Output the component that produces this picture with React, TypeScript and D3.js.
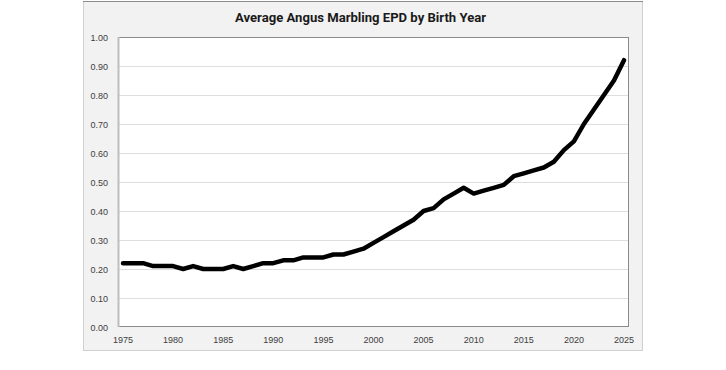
import React from "react";
import * as d3 from "d3";

const years: number[] = d3.range(1975, 2026);
const values: number[] = [
  0.22, 0.22, 0.22, 0.21, 0.21, 0.21, 0.20, 0.21, 0.20, 0.20,
  0.20, 0.21, 0.20, 0.21, 0.22, 0.22, 0.23, 0.23, 0.24, 0.24,
  0.24, 0.25, 0.25, 0.26, 0.27, 0.29, 0.31, 0.33, 0.35, 0.37,
  0.40, 0.41, 0.44, 0.46, 0.48, 0.46, 0.47, 0.48, 0.49, 0.52,
  0.53, 0.54, 0.55, 0.57, 0.61, 0.64, 0.70, 0.75, 0.80, 0.85,
  0.92,
];
const yTicks: number[] = [0, 0.1, 0.2, 0.3, 0.4, 0.5, 0.6, 0.7, 0.8, 0.9, 1.0];
const xTickLabels: number[] = [1975, 1980, 1985, 1990, 1995, 2000, 2005, 2010, 2015, 2020, 2025];
const title = "Average Angus Marbling EPD by Birth Year";

export default function App() {
  const W = 726, H = 370;
  const plot = { left: 118, right: 629, top: 37, bottom: 327 };
  const x = d3
    .scaleBand<number>()
    .domain(years)
    .range([plot.left, plot.right]);
  const cx = (yr: number) => (x(yr) as number) + x.bandwidth() / 2;
  const y = d3.scaleLinear().domain([0, 1]).range([plot.bottom, plot.top]);
  const line = d3
    .line<number>()
    .x((_, i) => cx(years[i]))
    .y((d) => y(d));

  return (
    <svg
      width={W}
      height={H}
      style={{ position: "absolute", left: 0, top: 0 }}
      fontFamily="'Liberation Sans', Arial, sans-serif"
    >
      <rect x={0} y={0} width={W} height={H} fill="#ffffff" />
      <rect x={83.5} y={1.5} width={559} height={349} fill="#f2f2f2" stroke="#d0d0d0" strokeWidth={1} />
      <line x1={83} x2={643} y1={1.5} y2={1.5} stroke="#8c8c8c" strokeWidth={1} />
      <text
        x={360.5}
        y={22}
        textAnchor="middle"
        fontFamily="Roboto, 'Open Sans', sans-serif"
        fontWeight="bold"
        fontSize={13.5}
        fill="#1a1a1a"
        textLength={251}
        lengthAdjust="spacingAndGlyphs"
      >
        {title}
      </text>
      <rect
        x={plot.left}
        y={plot.top}
        width={plot.right - plot.left}
        height={plot.bottom - plot.top}
        fill="#ffffff"
      />
      {yTicks.slice(1, -1).map((t) => (
        <line
          key={"g" + t}
          x1={plot.left}
          x2={plot.right}
          y1={Math.round(y(t)) + 0.5}
          y2={Math.round(y(t)) + 0.5}
          stroke="#dedede"
          strokeWidth={1}
        />
      ))}
      <rect
        x={plot.left + 0.5}
        y={plot.top + 0.5}
        width={plot.right - plot.left - 1}
        height={plot.bottom - plot.top - 1}
        fill="none"
        stroke="#8a8a8a"
        strokeWidth={1}
      />
      <line x1={plot.left + 0.5} x2={plot.left + 0.5} y1={plot.top} y2={plot.bottom} stroke="#bdbdbd" strokeWidth={2} />
      {yTicks.map((t) => (
        <text
          key={"y" + t}
          x={108}
          y={y(t) + 3.5}
          textAnchor="end"
          fontSize={9}
          fill="#404040"
        >
          {t.toFixed(2)}
        </text>
      ))}
      {xTickLabels.map((yr) => (
        <text
          key={"x" + yr}
          x={cx(yr)}
          y={343}
          textAnchor="middle"
          fontSize={9}
          fill="#404040"
        >
          {yr}
        </text>
      ))}
      <path
        d={line(values) as string}
        fill="none"
        stroke="#000000"
        strokeWidth={4.5}
        strokeLinejoin="round"
        strokeLinecap="round"
      />
    </svg>
  );
}
